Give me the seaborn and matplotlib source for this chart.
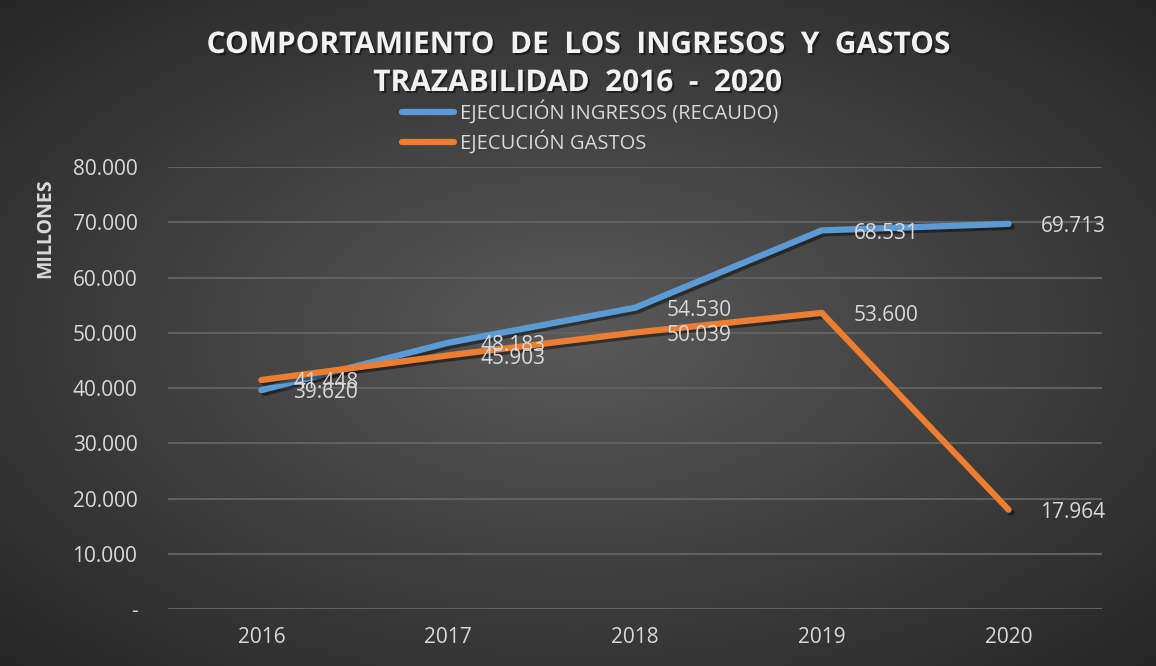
import matplotlib.pyplot as plt
import matplotlib.patheffects as pe
import seaborn as sns
import numpy as np
import pandas as pd

# Data (millones)
years = ["2016", "2017", "2018", "2019", "2020"]
ingresos = [39620, 48183, 54530, 68531, 69713]
gastos = [41448, 45903, 50039, 53600, 17964]
series_names = ["EJECUCIÓN INGRESOS (RECAUDO)", "EJECUCIÓN GASTOS"]
y_ticks = [0, 10000, 20000, 30000, 40000, 50000, 60000, 70000, 80000]

df = pd.DataFrame({
    "year": years * 2,
    "value": ingresos + gastos,
    "serie": [series_names[0]] * 5 + [series_names[1]] * 5,
})

sns.set_theme(style="dark")
plt.rcParams['font.family'] = ['Open Sans', 'DejaVu Sans']

txt_color = "#d9d9d9"
fig = plt.figure(figsize=(11.56, 6.66), dpi=100)

# radial gradient background
bg = fig.add_axes([0, 0, 1, 1], zorder=-10)
xx, yy = np.meshgrid(np.linspace(-1, 1, 400), np.linspace(-1, 1, 240))
r = np.sqrt(xx ** 2 + yy ** 2) / np.sqrt(2)
shade = 0.35 - 0.20 * r
img = np.dstack([shade, shade, shade])
bg.imshow(img, aspect="auto", extent=[0, 1, 0, 1], interpolation="bilinear")
bg.axis("off")

ax = fig.add_axes([0.1453, 0.0856, 0.8080, 0.6636])
ax.set_facecolor("none")

palette = {series_names[0]: "#5b9bd5", series_names[1]: "#ed7d31"}
shadow = [pe.SimpleLineShadow(offset=(2, -2), alpha=0.45, shadow_color="black"), pe.Normal()]
sns.lineplot(data=df, x="year", y="value", hue="serie", palette=palette,
             linewidth=4.5, sort=False, ax=ax, legend=False,
             solid_capstyle="round", path_effects=shadow)

for i, (a, b) in enumerate(zip(ingresos, gastos)):
    for v in (a, b):
        ax.annotate(f"{v:,}".replace(",", "."), (i, v), xytext=(23, -2),
                    textcoords="offset points", ha="left", va="center",
                    color=txt_color, fontsize=15)

ax.set_xlim(-0.5, 4.5)
ax.set_ylim(0, 80000)
ax.set_yticks(y_ticks)
ax.set_yticklabels(["-"] + [f"{t:,}".replace(",", ".") for t in y_ticks[1:]])
ax.grid(axis="y", color="#606060", linewidth=1.5)
ax.grid(axis="x", visible=False)
for s in ax.spines.values():
    s.set_visible(False)
ax.tick_params(axis="both", colors=txt_color, labelsize=15, length=0)
ax.tick_params(axis="y", pad=22)
ax.tick_params(axis="x", pad=13)
ax.set_xlabel("")
ax.set_ylabel("")

fig.text(45 / 1156, 1 - 228 / 666, "MILLONES", rotation=90, ha="center", va="center",
         color=txt_color, fontsize=14, fontweight="bold")

title_fx = [pe.SimplePatchShadow(offset=(1.5, -1.5), alpha=0.45, shadow_rgbFace="black"), pe.Normal()]
fig.text(0.5, 1 - 45 / 666, "COMPORTAMIENTO  DE  LOS  INGRESOS  Y  GASTOS", ha="center", va="center",
         color="#f2f2f2", fontsize=21.5, fontweight="bold", path_effects=title_fx)
fig.text(0.5, 1 - 83 / 666, "TRAZABILIDAD  2016  -  2020", ha="center", va="center",
         color="#f2f2f2", fontsize=21.5, fontweight="bold", path_effects=title_fx)

handles = [plt.Line2D([], [], color=palette[n], linewidth=4.5, solid_capstyle="round") for n in series_names]
fig.legend(handles, series_names, loc="center left", bbox_to_anchor=(394 / 1156, 1 - 127 / 666),
           frameon=False, labelcolor=txt_color, fontsize=14.5, handlelength=2.6,
           handletextpad=0.3, labelspacing=0.3, borderaxespad=0)

fig.savefig("out.png", dpi=100)
